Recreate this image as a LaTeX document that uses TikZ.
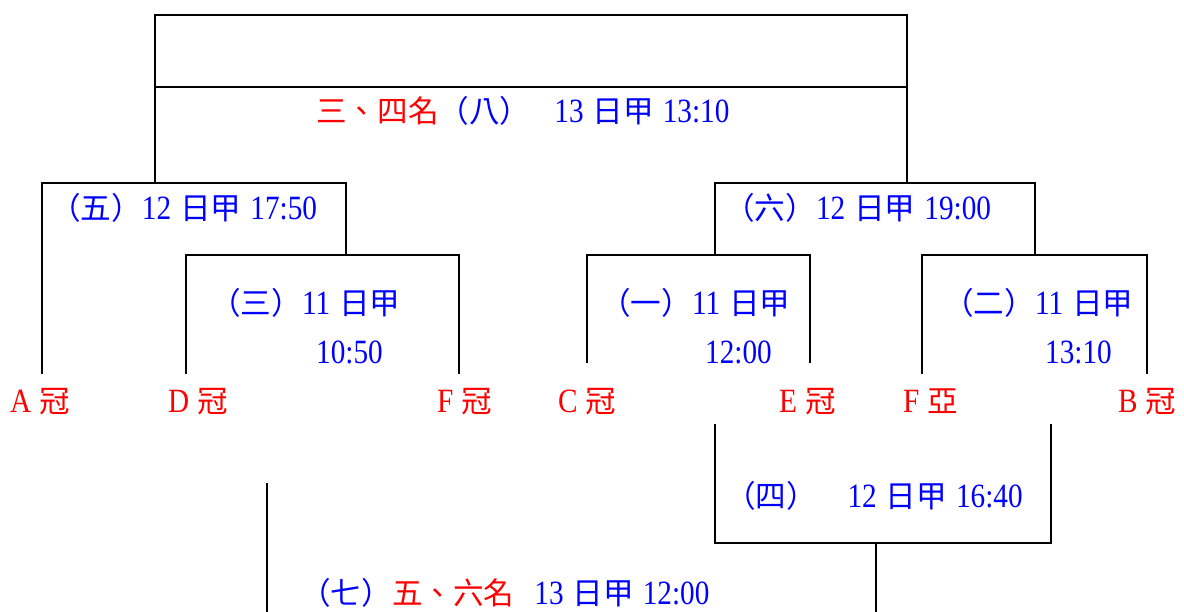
\documentclass[tikz,border=0pt]{standalone}
\usepackage{fontspec}
\setmainfont{Liberation Serif}[FakeStretch=0.86]
\newfontfamily\cjk{Noto Sans CJK TC}[Scale=0.9]
\usetikzlibrary{positioning}

\tikzset{
  bar/.style={line width=1.8pt, line cap=rect},
  team/.style={text=red, font=\fontsize{34}{38}\selectfont, inner sep=0pt, anchor=base west},
  game/.style={text=blue, font=\fontsize{34}{38}\selectfont, inner sep=0pt, anchor=base west},
}
\newcommand\gap{\hspace{9pt}}

\begin{document}
\begin{tikzpicture}[x=1pt, y=-1pt]
    \useasboundingbox (0,0) rectangle (1184,612);

    % teams
    \node[team] (tA) at (10,412)   {A\hspace{8pt}{\cjk 冠}};
    \node[team] (tD) at (168,412)  {D\hspace{8pt}{\cjk 冠}};
    \node[team] (tF) at (437,412)  {F\hspace{8pt}{\cjk 冠}};
    \node[team] (tC) at (558,412)  {C\hspace{8pt}{\cjk 冠}};
    \node[team] (tE) at (779,412)  {E\hspace{8pt}{\cjk 冠}};
    \node[team] (tF2) at (903,412) {F\hspace{8pt}{\cjk 亞}};
    \node[team] (tB) at (1118,412) {B\hspace{8pt}{\cjk 冠}};

    % games
    \node[game] (n8) at (316,123) {\textcolor{red}{\cjk 三、四名}{\cjk （八）}\hspace{24pt}13\gap{\cjk 日甲}\gap 13:10};
    \node[game] (n5) at (50,220)  {{\cjk （五）}12\gap{\cjk 日甲}\gap 17:50};
    \node[game] (n6) at (724,220) {{\cjk （六）}12\gap{\cjk 日甲}\gap 19:00};
    \node[game] (n3) at (210,315) {{\cjk （三）}11\gap{\cjk 日甲}};
    \node[game] (n3t) at (316,364) {10:50};
    \node[game] (n1) at (600,315) {{\cjk （一）}11\gap{\cjk 日甲}};
    \node[game] (n1t) at (705,364) {12:00};
    \node[game] (n2) at (943,315) {{\cjk （二）}11\gap{\cjk 日甲}};
    \node[game] (n2t) at (1045,364) {13:10};
    \node[game] (n4) at (725,507) {{\cjk （四）　}12\gap{\cjk 日甲}\gap 16:40};
    \node[game] (n7) at (300,604) {{\cjk （七）}\textcolor{red}{\cjk 五、六名}\hspace{20pt}13\gap{\cjk 日甲}\gap 12:00};

    % bracket points
    \coordinate (g8a) at (155,15);  \coordinate (g8b) at (907,15);
    \coordinate (g8c) at (155,87);  \coordinate (g8d) at (907,87);
    \coordinate (g5) at (155,183);  \coordinate (g6) at (907,183);
    \coordinate (g5L) at (42,183);  \coordinate (g5R) at (346,183);
    \coordinate (g6L) at (715,183); \coordinate (g6R) at (1035,183);
    \coordinate (g3) at (346,255);  \coordinate (g1) at (715,255);
    \coordinate (g2) at (1035,255);
    \coordinate (g3L) at (186,255); \coordinate (g3R) at (459,255);
    \coordinate (g1L) at (587,255); \coordinate (g1R) at (810,255);
    \coordinate (g2L) at (922,255); \coordinate (g2R) at (1147,255);
    \coordinate (legA) at (42,373);  \coordinate (legD) at (186,373);
    \coordinate (legF) at (459,373); \coordinate (legC) at (587,362);
    \coordinate (legE) at (810,362); \coordinate (legF2) at (922,373);
    \coordinate (legB) at (1147,373);
    \coordinate (g4a) at (715,425); \coordinate (g4b) at (1051,425);
    \coordinate (g4c) at (715,543); \coordinate (g4d) at (1051,543);
    \coordinate (g4) at (876,543);  \coordinate (g4out) at (876,612);
    \coordinate (g7) at (267,484);  \coordinate (g7out) at (267,612);

    \draw[bar] (g5) -- (g8a) -- (g8b) -- (g6);
    \draw[bar] (g8c) -- (g8d);
    \draw[bar] (legA) -- (g5L) -- (g5R) -- (g3);
    \draw[bar] (g1) -- (g6L) -- (g6R) -- (g2);
    \draw[bar] (legD) -- (g3L) -- (g3R) -- (legF);
    \draw[bar] (legC) -- (g1L) -- (g1R) -- (legE);
    \draw[bar] (legF2) -- (g2L) -- (g2R) -- (legB);
    \draw[bar] (g4a) -- (g4c) -- (g4d) -- (g4b);
    \draw[bar] (g4) -- (g4out);
    \draw[bar] (g7) -- (g7out);
\end{tikzpicture}
\end{document}
